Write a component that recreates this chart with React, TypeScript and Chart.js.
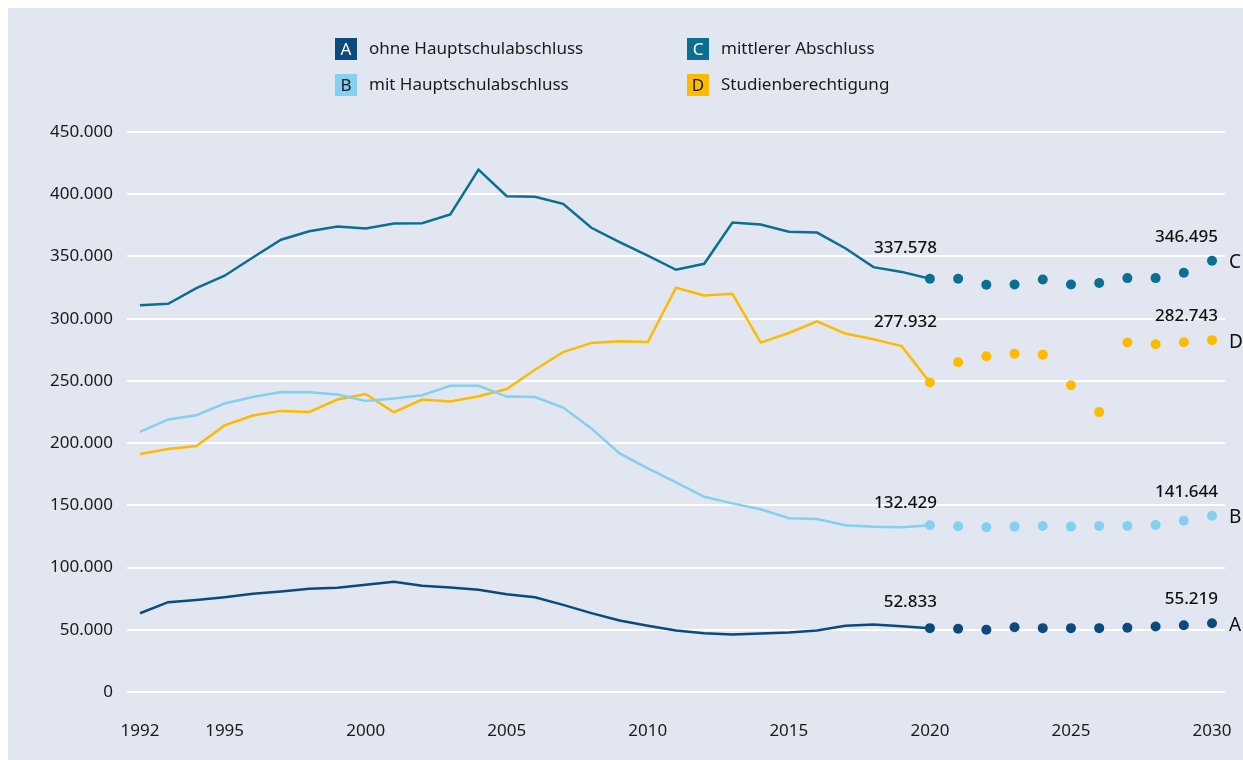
import React, { useEffect, useRef } from 'react';
import { Chart, registerables } from 'chart.js';
Chart.register(...registerables);

if (typeof document !== 'undefined') {
  document.documentElement.style.overflow = 'hidden';
}

const histYears = [1992, 1993, 1994, 1995, 1996, 1997, 1998, 1999, 2000, 2001, 2002, 2003, 2004, 2005, 2006, 2007, 2008, 2009, 2010, 2011, 2012, 2013, 2014, 2015, 2016, 2017, 2018, 2019, 2020];
const projYears = [2021, 2022, 2023, 2024, 2025, 2026, 2027, 2028, 2029, 2030];
const xTickYears = [1992, 1995, 2000, 2005, 2010, 2015, 2020, 2025, 2030];

const seriesNames = ['ohne Hauptschulabschluss', 'mit Hauptschulabschluss', 'mittlerer Abschluss', 'Studienberechtigung'];
const seriesLetters = ['A', 'B', 'C', 'D'];
const seriesColors = ['#0b4a7d', '#85cff0', '#0a6f91', '#fdbb00'];
const letterColors = ['#ffffff', '#1a1a1a', '#ffffff', '#1a1a1a'];

const aHist = [63300, 72200, 74000, 76200, 78900, 80700, 82900, 83700, 86100, 88500, 85300, 83900, 82100, 78600, 76200, 70000, 63400, 57400, 53200, 49400, 47300, 46200, 47000, 47800, 49400, 53200, 54200, 52833, 51300];
const aProj = [50800, 50000, 52100, 51300, 51300, 51300, 51600, 52600, 53700, 55219];
const bHist = [209100, 219000, 222400, 231800, 237100, 241100, 240900, 239000, 233900, 235800, 238500, 246000, 246000, 237400, 237000, 228600, 211800, 191700, 179700, 168500, 156900, 151600, 146800, 139600, 139000, 134000, 132800, 132429, 134000];
const bProj = [133200, 132400, 132900, 133400, 132900, 133400, 133400, 134200, 137700, 141644];
const cHist = [310700, 312000, 324600, 334500, 349200, 363400, 370300, 374100, 372500, 376500, 376700, 383700, 419800, 398400, 397900, 392300, 373000, 361500, 350600, 339300, 344100, 377300, 375700, 369800, 369200, 356600, 341400, 337578, 332100];
const cProj = [332100, 327300, 327500, 331500, 327500, 328600, 332600, 332600, 336900, 346495];
const dHist = [191200, 195200, 197600, 214200, 222200, 225900, 225100, 235000, 239500, 224800, 235000, 233400, 237700, 243500, 259000, 273200, 280500, 281800, 281200, 324900, 318700, 320000, 280800, 288500, 297800, 288000, 283400, 277932, 248700];
const dProj = [265000, 269800, 271900, 271100, 246500, 224900, 280800, 279400, 281000, 282743];

const histSeries = [aHist, bHist, cHist, dHist];
const projSeries = [aProj, bProj, cProj, dProj];

// annotated values: last observed (2019) shown at 2020, and final projection 2030
const labelYearStart = 2020;
const labelValuesStart = [52833, 132429, 337578, 277932];
const labelYearEnd = 2030;
const labelValuesEnd = [55219, 141644, 346495, 282743];

const FONT = "'Noto Sans', sans-serif";

function fmt(v: number): string {
  if (v === 0) return '0';
  const s = Math.round(v).toString();
  return s.replace(/\B(?=(\d{3})+(?!\d))/g, '.');
}

const overlayPlugin = {
  id: 'overlay',
  afterDatasetsDraw(chart: any) {
    const ctx = chart.ctx;
    const xs = chart.scales.x;
    const ys = chart.scales.y;
    ctx.save();
    const legendPos = [
      { bx: 327, cy: 41 },
      { bx: 327, cy: 77 },
      { bx: 679, cy: 41 },
      { bx: 679, cy: 77 },
    ];
    for (let i = 0; i < 4; i++) {
      const p = legendPos[i];
      ctx.fillStyle = seriesColors[i];
      ctx.fillRect(p.bx, p.cy - 11, 22, 22);
      ctx.fillStyle = letterColors[i];
      ctx.font = `17px ${FONT}`;
      ctx.textAlign = 'center';
      ctx.textBaseline = 'middle';
      ctx.fillText(seriesLetters[i], p.bx + 11, p.cy + 1);
      ctx.fillStyle = '#1a1a1a';
      ctx.font = `17px ${FONT}`;
      ctx.textAlign = 'left';
      ctx.fillText(seriesNames[i], p.bx + 34, p.cy);
    }
    ctx.fillStyle = '#111111';
    ctx.font = `500 17px ${FONT}`;
    ctx.textAlign = 'right';
    ctx.textBaseline = 'middle';
    for (let i = 0; i < 4; i++) {
      const x1 = xs.getPixelForValue(labelYearStart);
      const y1 = ys.getPixelForValue(labelValuesStart[i]);
      ctx.fillText(fmt(labelValuesStart[i]), x1 + 7, y1 - 24);
      const x2 = xs.getPixelForValue(labelYearEnd);
      const y2 = ys.getPixelForValue(labelValuesEnd[i]);
      ctx.fillText(fmt(labelValuesEnd[i]), x2 + 6, y2 - 24);
    }
    ctx.font = `19px ${FONT}`;
    ctx.textAlign = 'left';
    for (let i = 0; i < 4; i++) {
      const x2 = xs.getPixelForValue(labelYearEnd);
      const y2 = ys.getPixelForValue(labelValuesEnd[i]);
      ctx.fillText(seriesLetters[i], x2 + 17, y2 + 2);
    }
    ctx.restore();
  },
};

export default function App() {
  const ref = useRef<HTMLCanvasElement>(null);
  useEffect(() => {
    const canvas = ref.current;
    if (!canvas) return;
    const datasets: any[] = [];
    for (let i = 0; i < 4; i++) {
      const hist = histSeries[i];
      datasets.push({
        label: seriesNames[i],
        data: histYears.map((yr, k) => ({ x: yr, y: hist[k] })),
        borderColor: seriesColors[i],
        backgroundColor: seriesColors[i],
        borderWidth: 2.5,
        tension: 0,
        pointRadius: (c: any) => (c.dataIndex === histYears.length - 1 ? 5 : 0),
        pointHoverRadius: 0,
        pointBorderWidth: 0,
        fill: false,
      });
      const proj = projSeries[i];
      datasets.push({
        label: seriesNames[i] + ' Prognose',
        data: projYears.map((yr, k) => ({ x: yr, y: proj[k] })),
        borderColor: seriesColors[i],
        backgroundColor: seriesColors[i],
        showLine: false,
        pointRadius: 5,
        pointBorderWidth: 0,
        pointHoverRadius: 0,
      });
    }
    const chart = new Chart(canvas, {
      type: 'line',
      data: { datasets },
      options: {
        animation: false,
        responsive: false,
        maintainAspectRatio: false,
        events: [],
        layout: { padding: { top: 124, right: 18, bottom: 0, left: 0 } },
        plugins: { legend: { display: false }, tooltip: { enabled: false } },
        scales: {
          x: {
            type: 'linear',
            min: 1991.54,
            max: 2030.46,
            grid: { display: false, drawTicks: false },
            border: { display: false },
            afterBuildTicks: (s: any) => {
              s.ticks = xTickYears.map((v) => ({ value: v }));
            },
            afterFit: (s: any) => {
              s.height = 68;
              s.paddingLeft = 0;
              s.paddingRight = 0;
            },
            ticks: {
              padding: 29,
              color: '#1a1a1a',
              font: { family: FONT, size: 17 },
              maxRotation: 0,
              autoSkip: false,
              callback: (v: any) => String(v),
            },
          },
          y: {
            min: 0,
            max: 450000,
            grid: { color: '#ffffff', lineWidth: 2, drawTicks: false },
            border: { display: false },
            afterFit: (s: any) => {
              s.width = 119;
              s.paddingTop = 0;
              s.paddingBottom = 0;
            },
            ticks: {
              stepSize: 50000,
              padding: 14,
              color: '#1a1a1a',
              font: { family: FONT, size: 17 },
              callback: (v: any) => fmt(Number(v)),
            },
          },
        },
      },
      plugins: [overlayPlugin],
    });
    return () => chart.destroy();
  }, []);
  return (
    <div
      style={{
        position: 'absolute',
        left: 8,
        top: 8,
        width: 1235,
        height: 752,
        minWidth: 1235,
        minHeight: 752,
        background: '#e2e6f0',
      }}
    >
      <canvas ref={ref} width={1235} height={752} style={{ width: 1235, height: 752, display: 'block' }} />
    </div>
  );
}
